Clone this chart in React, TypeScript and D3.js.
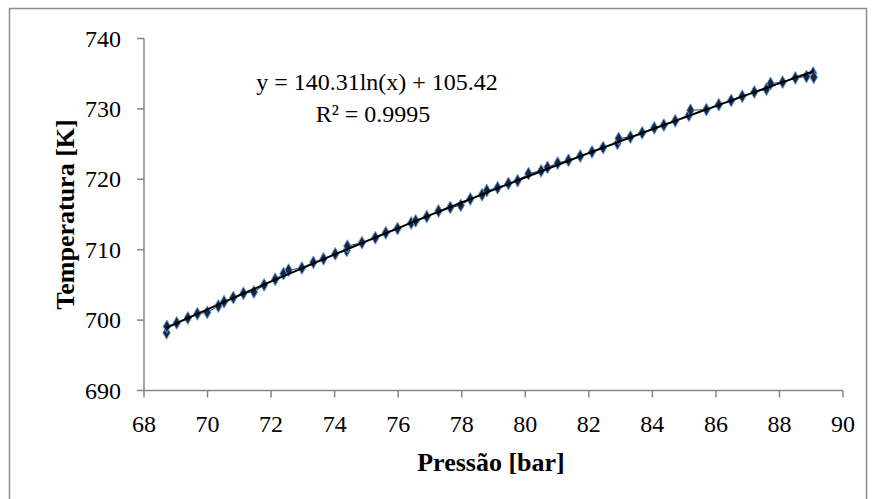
import * as d3 from "d3";

// measured points (pressure in bar, temperature in K)
const pressure = [
  68.71, 68.72, 69.03, 69.38, 69.68, 69.99, 70.34, 70.52, 70.81, 71.13, 71.46,
  71.78, 72.13, 72.39, 72.55, 72.97, 73.33, 73.65, 74.02, 74.38, 74.4, 74.86,
  75.28, 75.61, 75.98, 76.41, 76.55, 76.9, 77.27, 77.64, 77.97, 78.27, 78.64,
  78.79, 79.13, 79.47, 79.76, 80.1, 80.5, 80.7, 81.02, 81.36, 81.73, 82.1,
  82.45, 82.9, 82.94, 83.31, 83.68, 84.06, 84.36, 84.72, 85.15, 85.2, 85.7,
  86.09, 86.48, 86.83, 87.21, 87.59, 87.72, 88.1, 88.5, 88.85, 89.06, 89.08,
];
const temperature = [
  698.2, 699.1, 699.6, 700.3, 700.9, 701.1, 702.0, 702.6, 703.2, 703.8, 704.0,
  705.0, 705.8, 706.6, 707.1, 707.4, 708.2, 708.7, 709.4, 709.9, 710.5, 711.0,
  711.7, 712.4, 713.0, 713.8, 714.1, 714.7, 715.5, 716.0, 716.3, 717.2, 717.8,
  718.4, 718.8, 719.4, 719.8, 720.8, 721.2, 721.7, 722.3, 722.7, 723.3, 723.9,
  724.5, 725.1, 725.8, 726.0, 726.6, 727.3, 727.7, 728.3, 729.1, 729.8, 729.9,
  730.6, 731.2, 731.8, 732.4, 732.8, 733.6, 733.8, 734.4, 734.6, 735.1, 734.5,
];

// logarithmic trendline shown on the chart
const trendA = 140.31;
const trendB = 105.42;
const trendLabel = "y = 140.31ln(x) + 105.42";
const r2Label = "R² = 0.9995";

const xTicks = [68, 70, 72, 74, 76, 78, 80, 82, 84, 86, 88, 90];
const yTicks = [690, 700, 710, 720, 730, 740];

const W = 876;
const H = 499;
const font = "'Liberation Serif', 'Times New Roman', serif";
const axisColor = "#868686";

export default function App() {
  const margin = { left: 144, right: 33, top: 38.5, bottom: 108.5 };
  const x = d3.scaleLinear().domain([68, 90]).range([margin.left, W - margin.right]);
  const y = d3.scaleLinear().domain([690, 740]).range([H - margin.bottom, margin.top]);

  const points = pressure.map((p, i) => ({ p, t: temperature[i] }));

  const seriesLine = d3
    .line<{ p: number; t: number }>()
    .x((d) => x(d.p))
    .y((d) => y(d.t))(points);

  const pMin = d3.min(pressure) ?? 68;
  const pMax = d3.max(pressure) ?? 90;
  const trendLine = d3
    .line<number>()
    .x((p) => x(p))
    .y((p) => y(trendA * Math.log(p) + trendB))(
    d3.range(0, 101).map((i) => pMin + ((pMax - pMin) * i) / 100)
  );

  const diamond = d3.symbol(d3.symbolDiamond, 48)();
  const x0 = x(68);
  const y0 = y(690);

  return (
    <svg
      width={W}
      height={H}
      style={{ position: "absolute", left: 0, top: 0, background: "#fff" }}
      fontFamily={font}
    >
      <rect x={9.5} y={8.5} width={857} height={520} fill="#fff" stroke="#8c8c8c" strokeWidth={1.5} />

      {/* axes */}
      <line x1={x0} x2={x0} y1={y(740)} y2={y0} stroke={axisColor} strokeWidth={1.5} />
      <line x1={x0} x2={x(90)} y1={y0} y2={y0} stroke={axisColor} strokeWidth={1.5} />
      {yTicks.map((t) => (
        <g key={"y" + t}>
          <line x1={x0 - 7} x2={x0} y1={y(t)} y2={y(t)} stroke={axisColor} strokeWidth={1.5} />
          <text x={121} y={y(t) + 8} textAnchor="end" fontSize={24} fill="#000">
            {t}
          </text>
        </g>
      ))}
      {xTicks.map((t) => (
        <g key={"x" + t}>
          <line x1={x(t)} x2={x(t)} y1={y0} y2={y0 + 7} stroke={axisColor} strokeWidth={1.5} />
          <text x={x(t)} y={432} textAnchor="middle" fontSize={24} fill="#000">
            {t}
          </text>
        </g>
      ))}

      {/* data series */}
      <path d={seriesLine ?? ""} fill="none" stroke="#1f3a60" strokeWidth={1} />
      {points.map((d, i) => (
        <path
          key={i}
          d={diamond ?? ""}
          transform={`translate(${x(d.p)},${y(d.t)})`}
          fill="#16283f"
          stroke="#6a9bd8"
          strokeWidth={1}
        />
      ))}
      <path d={trendLine ?? ""} fill="none" stroke="#000" strokeWidth={2} />

      {/* trendline label */}
      <text x={377} y={90} textAnchor="middle" fontSize={24} fill="#000">
        {trendLabel}
      </text>
      <text x={373} y={122} textAnchor="middle" fontSize={24} fill="#000">
        {r2Label}
      </text>

      {/* axis titles */}
      <text
        transform={`translate(74,${(y(740) + y0) / 2}) rotate(-90)`}
        textAnchor="middle"
        fontSize={26}
        fontWeight="bold"
        fill="#000"
      >
        Temperatura [K]
      </text>
      <text x={491} y={471} textAnchor="middle" fontSize={26} fontWeight="bold" fill="#000">
        Pressão [bar]
      </text>
    </svg>
  );
}
